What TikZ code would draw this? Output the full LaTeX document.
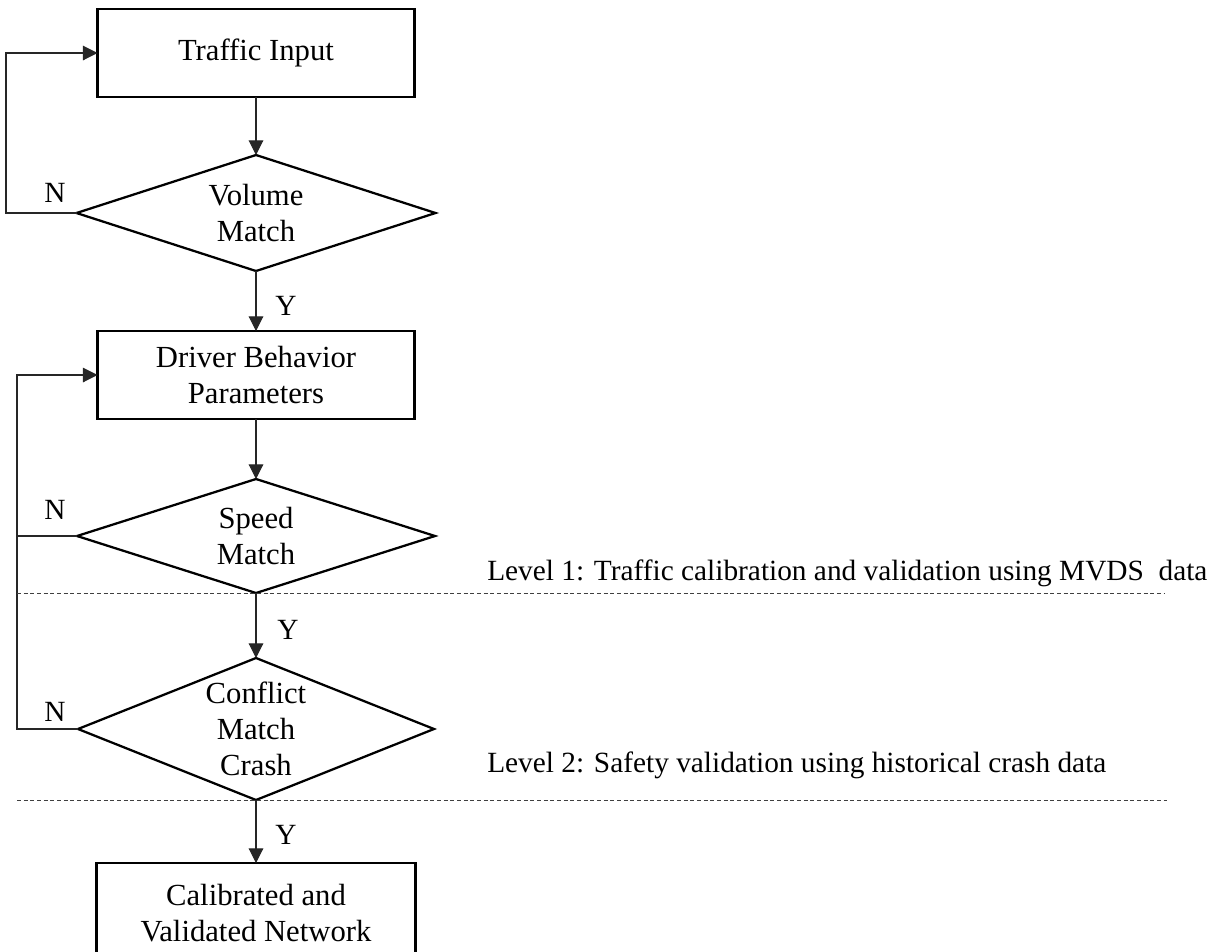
\documentclass[tikz,border=0pt]{standalone}
\usepackage{fontspec}
\setmainfont{Liberation Serif}
\usetikzlibrary{shapes.geometric,arrows.meta}
\begin{document}
\begin{tikzpicture}[x=0.75pt,y=-0.75pt,
 boxnode/.style={draw, line width=1.7pt, minimum width=237.75pt, minimum height=66pt, inner sep=0pt, outer sep=0pt, align=center, font=\fontsize{23}{27}\selectfont},
 dianode/.style={draw, diamond, line width=1.7pt, inner sep=0pt, outer sep=0pt},
 txt/.style={align=center, font=\fontsize{23}{27}\selectfont, inner sep=0pt},
 lbl/.style={font=\fontsize{22}{26.5}\selectfont, inner sep=0pt},
 conn/.style={line width=0.8pt, draw=black!85, -{Triangle[length=11pt,width=11pt]}},
 plain/.style={line width=0.8pt, draw=black!85},
 sep/.style={line width=0.6pt, dash pattern=on 3pt off 2pt, draw=black!75}
]
\clip (0,0) rectangle (1211,951);
% nodes
\node[boxnode] (ti) at (256,53) {Traffic Input};
\node[dianode, minimum width=269.25pt, minimum height=87pt] (vm) at (256,213) {};
\node[txt] (vmt) at (vm) {Volume\\Match};
\node[boxnode] (db) at (256,375) {Driver Behavior\\Parameters};
\node[dianode, minimum width=268.5pt, minimum height=85.5pt] (sm) at (256,536) {};
\node[txt] (smt) at (sm) {Speed\\Match};
\node[dianode, minimum width=267pt, minimum height=106.5pt] (cm) at (256,729) {};
\node[txt] (cmt) at (cm) {Conflict\\Match\\Crash};
\node[boxnode, minimum width=239.25pt, minimum height=75pt] (cv) at (256,913) {Calibrated and\\Validated Network};
% labels
\node[lbl] (n1) at (55,193) {N};
\node[lbl] (n2) at (55,510) {N};
\node[lbl] (n3) at (55,712) {N};
\node[lbl] (y1) at (286,306) {Y};
\node[lbl] (y2) at (288,630) {Y};
\node[lbl] (y3) at (286,835) {Y};
\node[lbl, anchor=west] (l1) at (487,573) {Level 1: Traffic calibration and validation using MVDS\ \ data};
\node[lbl, anchor=west] (l2) at (487,765) {Level 2: Safety validation using historical crash data};
% main flow
\draw[conn] (ti.south) -- (vm.north);
\draw[conn] (vm.south) -- (db.north);
\draw[conn] (db.south) -- (sm.north);
\draw[conn] (sm.south) -- (cm.north);
\draw[conn] (cm.south) -- (cv.north);
% loops
\coordinate (lp1) at (6,0);
\coordinate (lp2) at (17,0);
\draw[conn] (vm.west) -- (vm.west -| lp1) |- (ti.west);
\draw[conn] (sm.west) -- (sm.west -| lp2) |- (db.west);
\draw[plain] (cm.west) -- (cm.west -| lp2) -- (sm.west -| lp2);
% level separators
\coordinate (d1a) at (17,593);
\coordinate (d1b) at (1165,593);
\coordinate (d2a) at (17,800);
\coordinate (d2b) at (1167,800);
\draw[sep] (d1a) -- (d1b);
\draw[sep] (d2a) -- (d2b);
\end{tikzpicture}
\end{document}
